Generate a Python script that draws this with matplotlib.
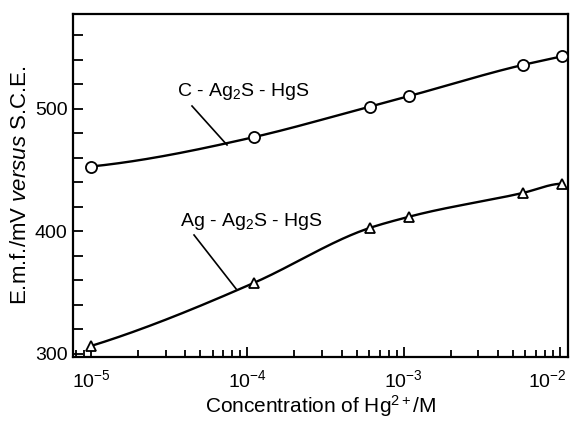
import numpy as np
import matplotlib.pyplot as plt
from matplotlib.ticker import LogLocator, MultipleLocator, NullFormatter
from matplotlib.transforms import ScaledTranslation

plt.rcParams['font.family'] = ['Liberation Sans', 'DejaVu Sans']
plt.rcParams['mathtext.fontset'] = 'custom'
plt.rcParams['mathtext.rm'] = 'Liberation Sans'
plt.rcParams['mathtext.it'] = 'Liberation Sans:italic'

conc = [1.0e-5, 1.1e-4, 6.1e-4, 1.08e-3, 5.8e-3, 1.03e-2]
emf_c = [453, 477, 502, 510.5, 536, 543]     # C - Ag2S - HgS
emf_ag = [306.5, 358, 403, 412, 431.5, 439]  # Ag - Ag2S - HgS


def smooth(x, y):
    # hermite curve through the points (log x), parabolic slopes inside,
    # end slopes from a cubic fit
    lx = np.log10(x)
    y = np.asarray(y, float)
    h = np.diff(lx)
    d = np.diff(y) / h
    k = np.empty_like(y)
    k[1:-1] = (h[1:] * d[:-1] + h[:-1] * d[1:]) / (h[:-1] + h[1:])
    dp = np.polyder(np.polyfit(lx, y, 3))
    k[0] = np.polyval(dp, lx[0])
    k[-1] = np.polyval(dp, lx[-1])
    t = np.linspace(0, 1, 60)
    h00 = 2 * t**3 - 3 * t**2 + 1
    h10 = t**3 - 2 * t**2 + t
    h01 = -2 * t**3 + 3 * t**2
    h11 = t**3 - t**2
    xs, ys = [], []
    for i in range(len(lx) - 1):
        xs.append(lx[i] + t * h[i])
        ys.append(h00 * y[i] + h10 * h[i] * k[i] + h01 * y[i + 1] + h11 * h[i] * k[i + 1])
    return 10 ** np.concatenate(xs), np.concatenate(ys)


fig = plt.figure(figsize=(5.76, 4.21), dpi=100)
ax = fig.add_axes([0.1267, 0.152, 0.8594, 0.8147])

for y, m, ms in [(emf_c, 'o', 8), (emf_ag, '^', 6.5)]:
    sx, sy = smooth(conc, y)
    ax.plot(sx, sy, color='black', lw=1.7, zorder=2)
    ax.plot(conc, y, ls='none', marker=m, ms=ms, mfc='white', mec='black',
            mew=1.3, zorder=3)

ax.set_xscale('log')
ax.set_xlim(10 ** -5.115, 10 ** -1.95)
ax.set_ylim(297.5, 577.5)

ax.set_xticks([1e-5, 1e-4, 1e-3, 1e-2])
ax.xaxis.set_minor_locator(LogLocator(base=10, subs=np.arange(2, 10)))
ax.xaxis.set_minor_formatter(NullFormatter())
ax.set_yticks([300, 400, 500])
ax.yaxis.set_minor_locator(MultipleLocator(20))

ax.tick_params(which='both', direction='in', top=False, right=False,
               labelsize=14, width=1.3)
ax.tick_params(axis='x', which='major', length=7, pad=9)
ax.tick_params(axis='x', which='minor', length=5)
ax.tick_params(axis='y', which='both', length=7, pad=4)
for s in ax.spines.values():
    s.set_linewidth(1.6)

last = ax.xaxis.get_major_ticks()[-1].label1
last.set_transform(last.get_transform() +
                   ScaledTranslation(-9 / 72, 0, fig.dpi_scale_trans))

ax.set_xlabel('Concentration of Hg$^{2+}$/M', fontsize=15, labelpad=1)
ax.set_ylabel('E.m.f./mV $\\mathit{versus}$ S.C.E.', fontsize=16,
              labelpad=3)

ax.text(10 ** -4.027, 514, 'C - Ag$_2$S - HgS', fontsize=14,
        ha='center', va='center')
ax.plot([10 ** -4.354, 10 ** -4.130], [502.4, 470.6], color='black', lw=1.2)
ax.text(10 ** -3.976, 408, 'Ag - Ag$_2$S - HgS', fontsize=14,
        ha='center', va='center')
ax.plot([10 ** -4.341, 10 ** -4.072], [397.1, 353.1], color='black', lw=1.2)

fig.savefig('out.png', dpi=100)
